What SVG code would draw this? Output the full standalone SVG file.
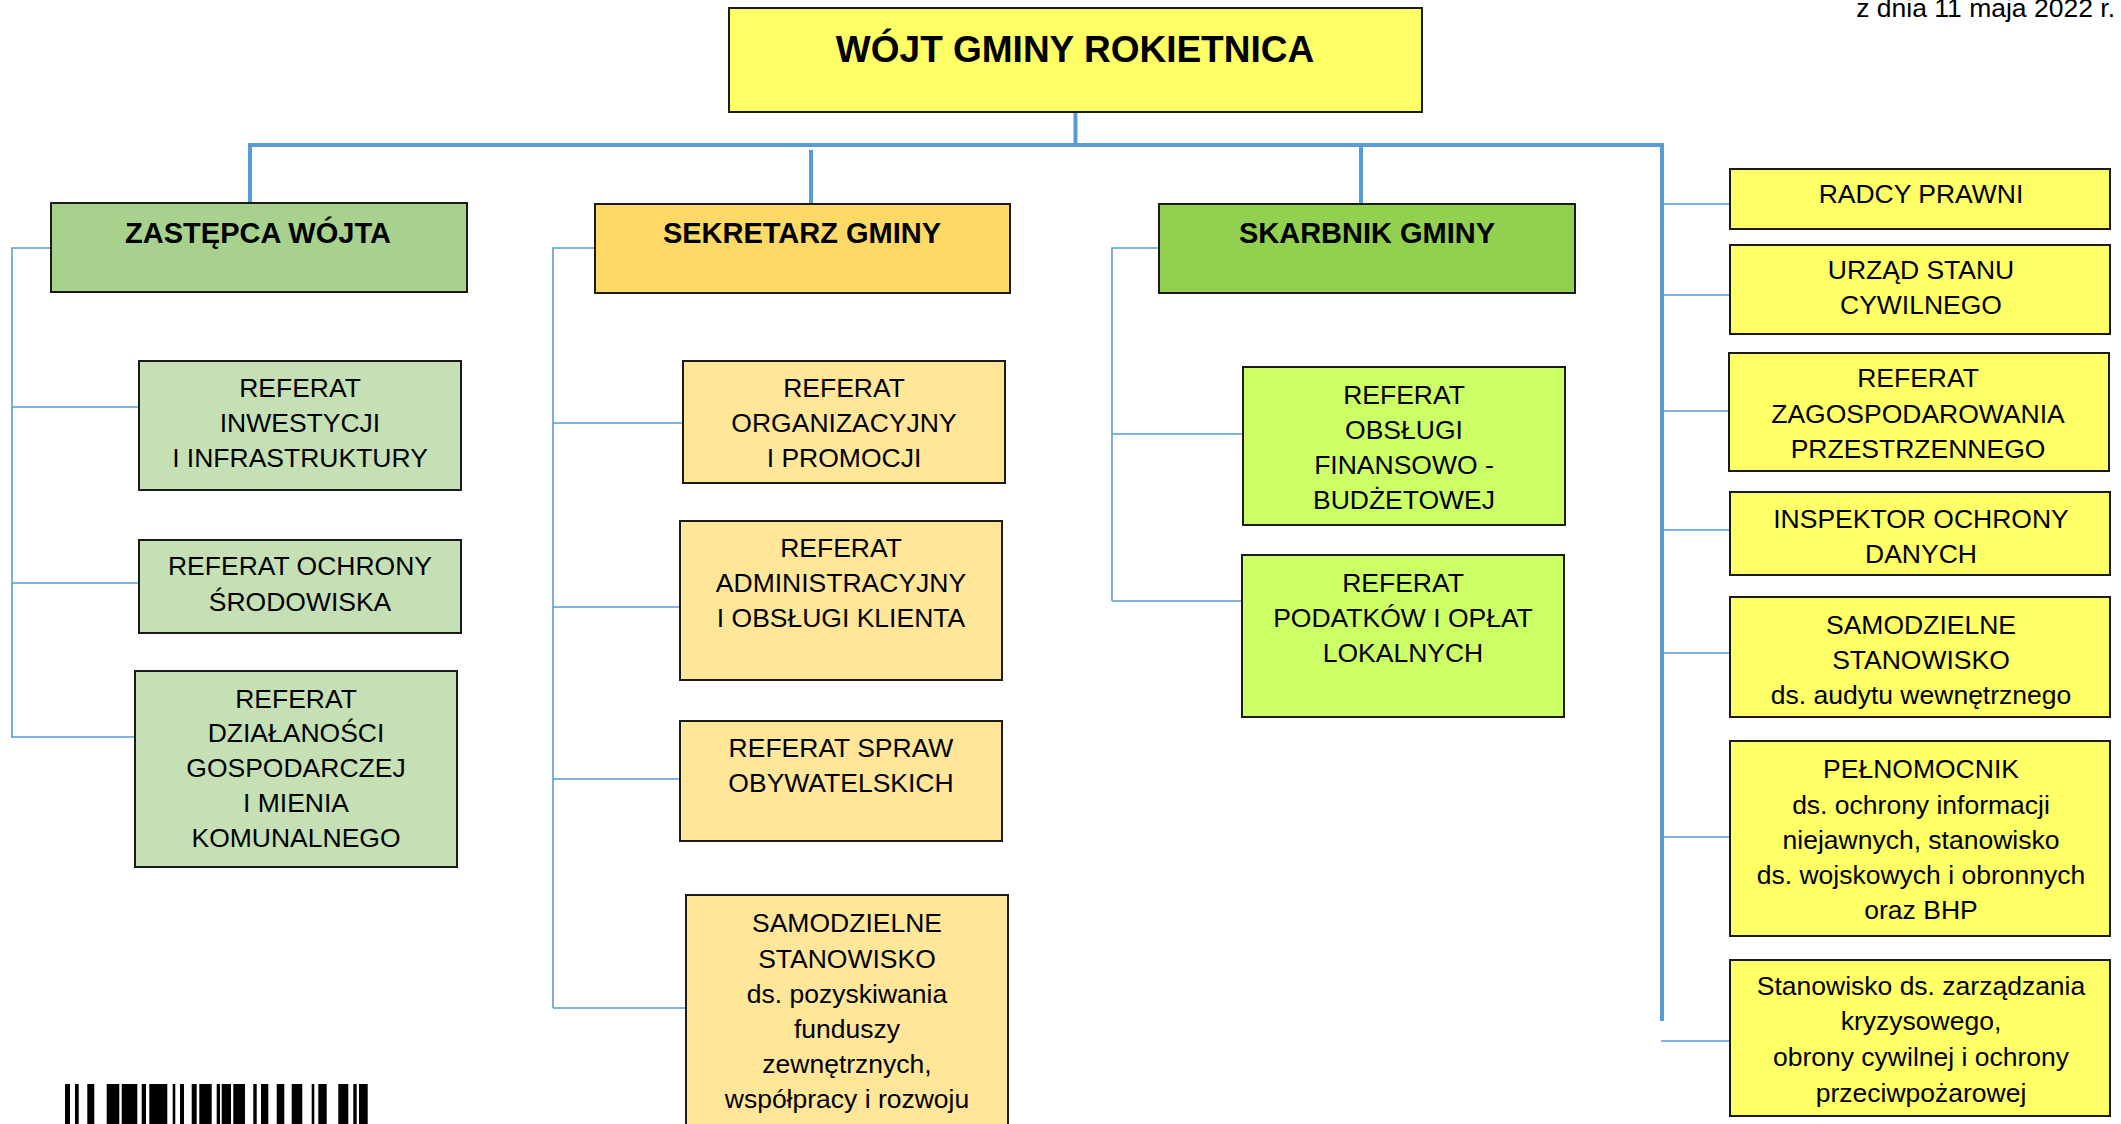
<svg xmlns="http://www.w3.org/2000/svg" width="2121" height="1124" viewBox="0 0 2121 1124">
<style>
text{font-family:"Liberation Sans",Arial,sans-serif;fill:#000;text-anchor:middle}
.t{font-size:26.5px}
.h{font-size:29px;font-weight:bold}
.box{stroke:#1a1a1a;stroke-width:2}
.thick{stroke:#5B9BD5;stroke-width:4;fill:none}
.thin{stroke:#5B9BD5;stroke-width:1.6;fill:none}
.y{fill:#FFFF66}.zg{fill:#A9D18E}.so{fill:#FFD966}.sg{fill:#92D050}
.lg{fill:#C5E0B4}.lo{fill:#FFE699}.lime{fill:#CCFF66}
</style>
<rect width="2121" height="1124" fill="#fff"/>
<text x="2115" y="17" style="font-size:26.5px;text-anchor:end">z dnia 11 maja 2022 r.</text>

<g id="connectors">
<path class="thick" d="M1075.5 112V145M248 145H1664M250 145V203M811 150V204M1361 145V204M1662 143V1021"/>
<path class="thin" d="M51 248H12V738M12 407H139M12 583H139M12 737H135"/>
<path class="thin" d="M595 248H553V1008M553 423H683M553 607H680M553 779H680M553 1008H686"/>
<path class="thin" d="M1159 248H1112V601M1112 434H1243M1112 601H1242"/>
<path class="thin" d="M1662 204H1730M1662 295H1730M1662 411H1729M1662 530H1730M1662 653H1730M1662 837H1730M1661 1041H1730"/>
</g>

<g id="wojt"><rect class="box y" x="729" y="8" width="693" height="104"/><text x="1075" y="62" style="font-size:37px;font-weight:bold">WÓJT GMINY ROKIETNICA</text></g>

<g id="zastepca"><rect class="box zg" x="51" y="203" width="416" height="89"/><text class="h" x="258" y="243">ZASTĘPCA WÓJTA</text></g>
<g id="sekretarz"><rect class="box so" x="595" y="204" width="415" height="89"/><text class="h" x="802" y="243">SEKRETARZ GMINY</text></g>
<g id="skarbnik"><rect class="box sg" x="1159" y="204" width="416" height="89"/><text class="h" x="1367" y="243">SKARBNIK GMINY</text></g>

<g id="ref-inwestycji"><rect class="box lg" x="139" y="361" width="322" height="129"/><text class="t" x="300" y="396.5">REFERAT</text><text class="t" x="300" y="431.5">INWESTYCJI</text><text class="t" x="300" y="466.5">I INFRASTRUKTURY</text></g>
<g id="ref-srodowiska"><rect class="box lg" x="139" y="540" width="322" height="93"/><text class="t" x="300" y="574.5">REFERAT OCHRONY</text><text class="t" x="300" y="610.5">ŚRODOWISKA</text></g>
<g id="ref-dzialalnosci"><rect class="box lg" x="135" y="671" width="322" height="196"/><text class="t" x="296" y="707.5">REFERAT</text><text class="t" x="296" y="741.5">DZIAŁANOŚCI</text><text class="t" x="296" y="776.5">GOSPODARCZEJ</text><text class="t" x="296" y="811.5">I MIENIA</text><text class="t" x="296" y="846.5">KOMUNALNEGO</text></g>

<g id="ref-organizacyjny"><rect class="box lo" x="683" y="361" width="322" height="122"/><text class="t" x="844" y="396.5">REFERAT</text><text class="t" x="844" y="431.5">ORGANIZACYJNY</text><text class="t" x="844" y="466.5">I PROMOCJI</text></g>
<g id="ref-administracyjny"><rect class="box lo" x="680" y="521" width="322" height="159"/><text class="t" x="841" y="556.5">REFERAT</text><text class="t" x="841" y="591.5">ADMINISTRACYJNY</text><text class="t" x="841" y="626.5">I OBSŁUGI KLIENTA</text></g>
<g id="ref-obywatelskich"><rect class="box lo" x="680" y="721" width="322" height="120"/><text class="t" x="841" y="756.5">REFERAT SPRAW</text><text class="t" x="841" y="791.5">OBYWATELSKICH</text></g>
<g id="st-funduszy"><rect class="box lo" x="686" y="895" width="322" height="240"/><text class="t" x="847" y="931.5">SAMODZIELNE</text><text class="t" x="847" y="967.5">STANOWISKO</text><text class="t" x="847" y="1002.5">ds. pozyskiwania</text><text class="t" x="847" y="1037.5">funduszy</text><text class="t" x="847" y="1072.5">zewnętrznych,</text><text class="t" x="847" y="1107.5">współpracy i rozwoju</text></g>

<g id="ref-finansowo"><rect class="box lime" x="1243" y="367" width="322" height="158"/><text class="t" x="1404" y="403.5">REFERAT</text><text class="t" x="1404" y="438.5">OBSŁUGI</text><text class="t" x="1404" y="473.5">FINANSOWO -</text><text class="t" x="1404" y="508.5">BUDŻETOWEJ</text></g>
<g id="ref-podatkow"><rect class="box lime" x="1242" y="555" width="322" height="162"/><text class="t" x="1403" y="591.5">REFERAT</text><text class="t" x="1403" y="626.5">PODATKÓW I OPŁAT</text><text class="t" x="1403" y="661.5">LOKALNYCH</text></g>

<g id="radcy"><rect class="box y" x="1730" y="169" width="380" height="60"/><text class="t" x="1921" y="202.5">RADCY PRAWNI</text></g>
<g id="usc"><rect class="box y" x="1730" y="245" width="380" height="89"/><text class="t" x="1921" y="278.5">URZĄD STANU</text><text class="t" x="1921" y="313.5">CYWILNEGO</text></g>
<g id="ref-zagospodarowania"><rect class="box y" x="1729" y="353" width="380" height="118"/><text class="t" x="1918" y="386.5">REFERAT</text><text class="t" x="1918" y="422.5">ZAGOSPODAROWANIA</text><text class="t" x="1918" y="457.5">PRZESTRZENNEGO</text></g>
<g id="iod"><rect class="box y" x="1730" y="492" width="380" height="83"/><text class="t" x="1921" y="527.5">INSPEKTOR OCHRONY</text><text class="t" x="1921" y="562.5">DANYCH</text></g>
<g id="audyt"><rect class="box y" x="1730" y="597" width="380" height="120"/><text class="t" x="1921" y="633.5">SAMODZIELNE</text><text class="t" x="1921" y="668.5">STANOWISKO</text><text class="t" x="1921" y="703.5">ds. audytu wewnętrznego</text></g>
<g id="pelnomocnik"><rect class="box y" x="1730" y="741" width="380" height="195"/><text class="t" x="1921" y="777.5">PEŁNOMOCNIK</text><text class="t" x="1921" y="813.5">ds. ochrony informacji</text><text class="t" x="1921" y="848.5">niejawnych, stanowisko</text><text class="t" x="1921" y="883.5">ds. wojskowych i obronnych</text><text class="t" x="1921" y="918.5">oraz BHP</text></g>
<g id="kryzysowe"><rect class="box y" x="1730" y="960" width="380" height="156"/><text class="t" x="1921" y="994.5">Stanowisko ds. zarządzania</text><text class="t" x="1921" y="1029.5">kryzysowego,</text><text class="t" x="1921" y="1065.5">obrony cywilnej i ochrony</text><text class="t" x="1921" y="1101.5">przeciwpożarowej</text></g>

<g id="barcode" fill="#000">
<rect x="65" y="1084" width="5" height="40"/><rect x="75" y="1084" width="3.7" height="40"/><rect x="87.3" y="1084" width="7" height="40"/><rect x="106.7" y="1084" width="12.6" height="40"/><rect x="121.7" y="1084" width="15.6" height="40"/><rect x="141.7" y="1084" width="4.3" height="40"/><rect x="149.3" y="1084" width="18" height="40"/><rect x="172.7" y="1084" width="2.6" height="40"/><rect x="180" y="1084" width="4" height="40"/><rect x="191.7" y="1084" width="5" height="40"/><rect x="199.3" y="1084" width="12.4" height="40"/><rect x="216.7" y="1084" width="3.3" height="40"/><rect x="221.7" y="1084" width="9.3" height="40"/><rect x="233.3" y="1084" width="11.7" height="40"/><rect x="253.3" y="1084" width="3.4" height="40"/><rect x="261" y="1084" width="7.3" height="40"/><rect x="276.7" y="1084" width="7.6" height="40"/><rect x="291.7" y="1084" width="10.6" height="40"/><rect x="311.7" y="1084" width="2.6" height="40"/><rect x="318.3" y="1084" width="8.4" height="40"/><rect x="338.3" y="1084" width="10" height="40"/><rect x="353.3" y="1084" width="3.4" height="40"/><rect x="359" y="1084" width="8.7" height="40"/>
</g>
</svg>
